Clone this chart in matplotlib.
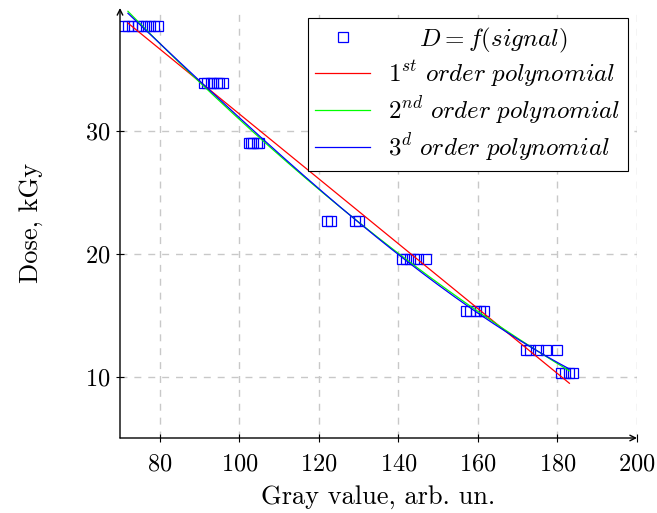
import numpy as np
from matplotlib import pyplot as plt

plt.rcParams['font.family'] = 'serif'
plt.rcParams['font.serif'] = ['cmr10']
plt.rcParams['mathtext.fontset'] = 'cm'
plt.rcParams['axes.formatter.use_mathtext'] = True
plt.rcParams['axes.unicode_minus'] = False

# measured gray values for each dose level
dose_levels = [38.5, 33.9, 29.0, 22.7, 19.6, 15.3, 12.2, 10.3]
gray_groups = [
    [71, 72, 73, 74.5, 75.5, 76.5, 77.5, 78.5, 79.5],
    [91, 92, 93, 93.5, 94.5, 95, 96],
    [102.5, 103, 103.5, 104.5, 105],
    [122, 123, 129, 130],
    [141, 142, 143, 144, 145, 147],
    [157, 158, 159.5, 160.5, 161.5],
    [172, 173, 175, 177, 180],
    [181, 182, 183, 184],
]
fit_domain = [72, 183]

gray = np.concatenate([np.array(g, dtype=float) for g in gray_groups])
dose = np.concatenate([np.full(len(g), d) for g, d in zip(gray_groups, dose_levels)])

fig = plt.figure(figsize=(6.57, 5.13), dpi=100)
ax = fig.add_axes([120 / 657, 1 - 438 / 513, 517 / 657, 430 / 513])

ax.plot(gray, dose, 's', mfc='none', mec='blue', ms=7.3, mew=0.9,
        linestyle='none', label=r'$\quad\;\,D = f(signal)$', zorder=3)

xs = np.linspace(fit_domain[0], fit_domain[1], 200)
fits = [(1, 'red', r'$\mathit{1^{st}\ order\ polynomial}$'),
        (2, 'lime', r'$\mathit{2^{nd}\ order\ polynomial}$'),
        (3, 'blue', r'$\mathit{3^{d}\ order\ polynomial}$')]
for deg, col, lab in fits:
    p = np.polyfit(gray, dose, deg)
    ax.plot(xs, np.polyval(p, xs), color=col, lw=0.9, label=lab, zorder=4)

ax.set_xlim(70, 200)
ax.set_ylim(5, 40)
ax.set_xticks([80, 100, 120, 140, 160, 180, 200])
ax.set_yticks([10, 20, 30])
ax.grid(True, color='#c8c8c8', linestyle=(0, (5, 5)), lw=1)
ax.tick_params(direction='inout', length=6, width=0.8, labelsize=17.5)
ax.tick_params(axis='x', pad=8)
ax.tick_params(axis='y', pad=4)

for s in ax.spines.values():
    s.set_visible(False)
ax.annotate('', xy=(1, 0), xytext=(0, 0), xycoords='axes fraction',
            arrowprops=dict(arrowstyle='->', lw=1, color='black',
                            shrinkA=0, shrinkB=0))
ax.annotate('', xy=(0, 1), xytext=(0, 0), xycoords='axes fraction',
            arrowprops=dict(arrowstyle='->', lw=1, color='black',
                            shrinkA=0, shrinkB=0))

ax.set_xlabel('Gray value, arb. un.', fontsize=19, labelpad=7)
ax.set_ylabel('Dose, kGy', fontsize=19, labelpad=30)

leg = ax.legend(loc='upper right', bbox_to_anchor=(0.9826, 0.9767), fontsize=18,
                fancybox=False, framealpha=1, edgecolor='black',
                handlelength=2.2, borderpad=0.3, labelspacing=0.18,
                handletextpad=0.7, borderaxespad=0)
leg.get_frame().set_linewidth(0.8)

fig.savefig('out.png', dpi=100)
